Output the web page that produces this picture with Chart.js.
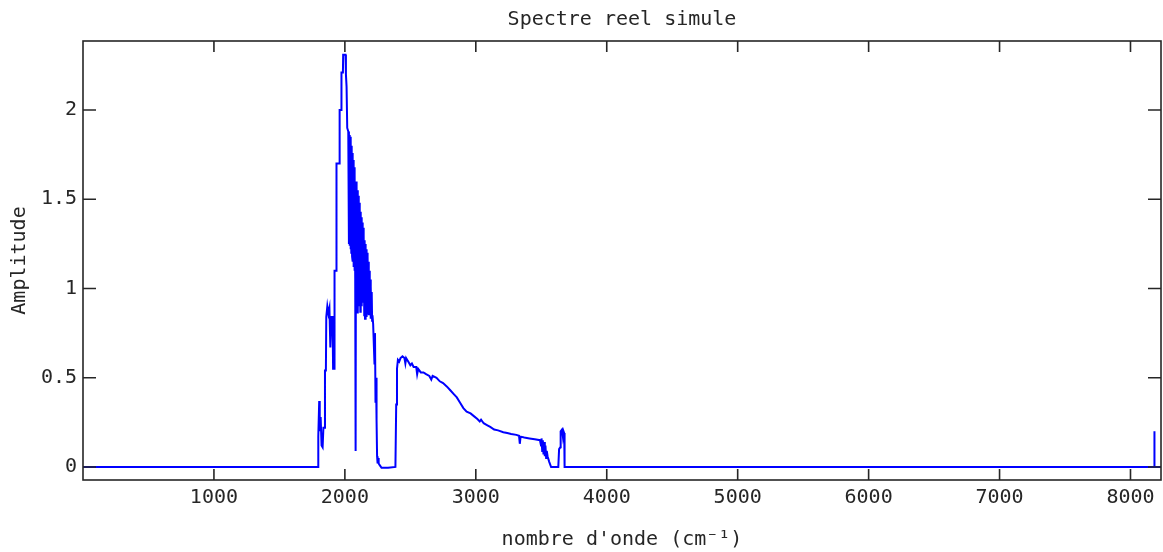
<!DOCTYPE html>
<html>
<head>
<meta charset="utf-8">
<script src="https://cdn.jsdelivr.net/npm/chart.js@4/dist/chart.umd.min.js"></script>
<style>
  html, body { margin: 0; padding: 0; background: #fff; }
  #wrap { width: 1163px; height: 552px; }
</style>
</head>
<body>
<div id="wrap"><canvas id="spectreChart"></canvas></div>
<script>
//-----------------------------------------------------
// Spectre reel simule - amplitude vs nombre d'onde
//-----------------------------------------------------

// nombre d'onde (cm-1)
const waveNumbers = [
    0, 1795, 1797, 1804, 1808, 1815, 1822, 1830, 1836, 1846, 1848, 1855, 1858, 1866, 1874, 1882,
    1889, 1897, 1906, 1910, 1918, 1921, 1934, 1936, 1958, 1960, 1972, 1974, 1985, 1987, 2005, 2008,
    2013, 2018, 2026, 2031,
    2034, 2037, 2040, 2043, 2046, 2049, 2052, 2055, 2058, 2061, 2064, 2067, 2070, 2073, 2076, 2079,
    2082, 2085, 2088, 2091, 2094, 2097, 2100, 2103, 2106, 2109, 2112, 2115, 2118, 2121, 2124, 2127,
    2130, 2133, 2136, 2139, 2142, 2145, 2148, 2151, 2154, 2157, 2160, 2163, 2166, 2169, 2172, 2175,
    2178, 2181, 2184, 2187, 2190, 2193, 2196, 2199, 2202, 2205, 2208, 2211, 2216,
    2222, 2226, 2230, 2234, 2238, 2242, 2246, 2250, 2254, 2258, 2266, 2280, 2330, 2386, 2392, 2398,
    2405, 2415, 2425, 2440, 2455, 2462, 2468, 2485, 2500, 2512, 2525, 2545, 2552, 2560, 2580, 2600,
    2620, 2645, 2660, 2670, 2700, 2725, 2750, 2780, 2805, 2830, 2855, 2880, 2905, 2930, 2960, 2985,
    3010, 3030, 3040, 3060, 3085, 3110, 3140, 3170, 3210, 3240, 3270, 3310, 3330, 3336, 3342, 3370,
    3410, 3450, 3490, 3498, 3502, 3507, 3512, 3517, 3522, 3527, 3532, 3537, 3542, 3548, 3560, 3575,
    3630, 3636, 3645, 3648, 3658, 3665, 3670, 3675, 3678,
    8180, 8182, 8184, 8233
];

// amplitude at each nombre d'onde
const amplitudes = [
    0, 0, 0.17, 0.37, 0.20, 0.28, 0.12, 0.11, 0.22, 0.22, 0.54, 0.54, 0.84, 0.90, 0.86, 0.89,
    0.67, 0.84, 0.84, 0.55, 0.55, 1.10, 1.10, 1.70, 1.70, 2.00, 2.00, 2.21, 2.21, 2.31, 2.31, 2.20,
    2.13, 1.90, 1.88, 1.25,
    1.86, 1.24, 1.85, 1.22, 1.83, 1.20, 1.80, 1.18, 1.76, 1.15, 1.72, 1.12, 1.68, 1.10, 1.64, 1.06,
    0.09, 1.60, 0.98, 1.57, 0.92, 1.55, 0.86, 1.52, 0.95, 1.48, 0.90, 1.45, 0.87, 1.43, 0.95, 1.40,
    0.90, 1.37, 0.93, 1.34, 0.92, 1.30, 0.85, 1.27, 0.83, 1.25, 0.88, 1.22, 0.84, 1.20, 0.86, 1.18,
    0.90, 1.15, 0.85, 1.10, 0.88, 1.05, 0.83, 1.01, 0.84, 0.98, 0.82, 0.85, 0.80,
    0.80, 0.58, 0.75, 0.36, 0.50, 0.26, 0.06, 0.02, 0.05, 0.02, 0.01, -0.005, -0.005, 0.00, 0.35, 0.55,
    0.60, 0.59, 0.61, 0.62, 0.61, 0.58, 0.61, 0.59, 0.57, 0.58, 0.56, 0.56, 0.52, 0.55, 0.53, 0.53,
    0.52, 0.51, 0.49, 0.51, 0.50, 0.48, 0.47, 0.45, 0.43, 0.41, 0.39, 0.36, 0.33, 0.31, 0.30, 0.285,
    0.27, 0.255, 0.265, 0.245, 0.235, 0.225, 0.21, 0.205, 0.195, 0.19, 0.185, 0.18, 0.175, 0.13, 0.17, 0.165,
    0.16, 0.155, 0.15, 0.12, 0.16, 0.09, 0.15, 0.07, 0.14, 0.06, 0.12, 0.05, 0.09, 0.06, 0.03, 0.00,
    0.00, 0.10, 0.11, 0.20, 0.21, 0.17, 0.20, 0.19, 0.00,
    0, 0.20, 0, 0
];

const xTickValues = [1000, 2000, 3000, 4000, 5000, 6000, 7000, 8000];
const yTickValues = [0, 0.5, 1, 1.5, 2];

const axisColor = '#262626';
const monoFont = { family: "'DejaVu Sans Mono', monospace", size: 20 };

// Matlab style box: frame plus inward ticks on all four sides
const boxPlugin = {
    id: 'matlabBox',
    afterDatasetsDraw(chart) {
        const { ctx, chartArea: a, scales } = chart;
        const len = 11;
        ctx.save();
        ctx.strokeStyle = axisColor;
        ctx.lineWidth = 1.6;
        ctx.strokeRect(a.left, a.top, a.right - a.left, a.bottom - a.top);
        ctx.beginPath();
        xTickValues.forEach(v => {
            const px = scales.x.getPixelForValue(v);
            ctx.moveTo(px, a.bottom); ctx.lineTo(px, a.bottom - len);
            ctx.moveTo(px, a.top); ctx.lineTo(px, a.top + len);
        });
        yTickValues.forEach(v => {
            const py = scales.y.getPixelForValue(v);
            ctx.moveTo(a.left, py); ctx.lineTo(a.left + len + 2, py);
            ctx.moveTo(a.right, py); ctx.lineTo(a.right - len - 2, py);
        });
        ctx.stroke();
        ctx.restore();
    }
};

const ctx = document.getElementById("spectreChart");
const spectreChart = new Chart(ctx.getContext("2d"), {
    type: 'line',
    data: {
        datasets: [{
            data: waveNumbers.map((w, i) => ({ x: w, y: amplitudes[i] })),
            borderColor: '#0000ff',
            borderWidth: 2,
            pointRadius: 0,
            tension: 0,
            fill: false
        }]
    },
    options: {
        responsive: true,
        maintainAspectRatio: false,
        animation: false,
        layout: { padding: { top: 0, right: 2, bottom: 0, left: 0 } },
        plugins: {
            legend: { display: false },
            tooltip: { enabled: false },
            title: {
                display: true,
                fullSize: false,
                text: 'Spectre reel simule',
                color: axisColor,
                font: { ...monoFont, weight: 'normal' },
                padding: { top: 8, bottom: 9 }
            }
        },
        scales: {
            x: {
                type: 'linear',
                min: 0,
                max: 8233,
                grid: { display: false, drawTicks: false },
                border: { display: false },
                afterBuildTicks: scale => { scale.ticks = xTickValues.map(v => ({ value: v })); },
                afterFit: scale => { scale.height = 72; },
                ticks: {
                    color: axisColor,
                    font: monoFont,
                    padding: 6,
                    maxRotation: 0,
                    callback: v => String(v)
                },
                title: {
                    display: true,
                    text: "nombre d'onde (cm⁻¹)",
                    color: axisColor,
                    font: monoFont,
                    padding: { top: 0, bottom: 0 }
                }
            },
            y: {
                type: 'linear',
                min: -0.073,
                max: 2.387,
                grid: { display: false, drawTicks: false },
                border: { display: false },
                afterBuildTicks: scale => { scale.ticks = yTickValues.map(v => ({ value: v })); },
                afterFit: scale => { scale.width = 83; },
                ticks: {
                    color: axisColor,
                    font: monoFont,
                    padding: 6,
                    callback: v => String(v)
                },
                title: {
                    display: true,
                    text: 'Amplitude',
                    color: axisColor,
                    font: monoFont,
                    padding: { top: 8, bottom: 0 }
                }
            }
        }
    },
    plugins: [boxPlugin]
});
</script>
</body>
</html>
